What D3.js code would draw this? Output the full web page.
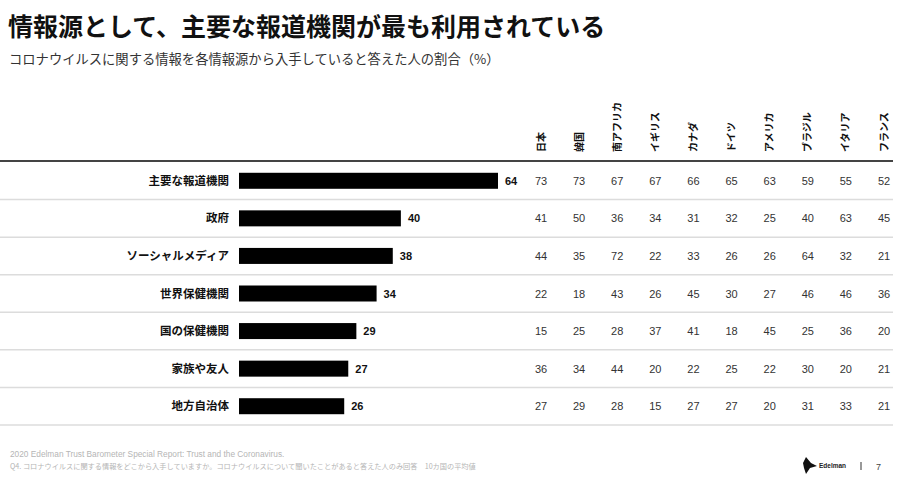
<!DOCTYPE html>
<html>
<head>
<meta charset="utf-8">
<script src="https://d3js.org/d3.v7.min.js"></script>
<style>
  body { margin: 0; background: #fff; }
  text { font-family: "Noto Sans CJK JP", "Liberation Sans", sans-serif; }
  .num { font-family: "Liberation Sans", Arial, sans-serif; }
</style>
</head>
<body>
<div id="chart"></div>
<script>
// sources (rows) and 10-country average
var sources = ["主要な報道機関", "政府", "ソーシャルメディア", "世界保健機関", "国の保健機関", "家族や友人", "地方自治体"];
var average = [64, 40, 38, 34, 29, 27, 26];

// countries (columns)
var countries = ["日本", "韓国", "南アフリカ", "イギリス", "カナダ", "ドイツ", "アメリカ", "ブラジル", "イタリア", "フランス"];

// values per source, in country order
var byCountry = [
  [73, 73, 67, 67, 66, 65, 63, 59, 55, 52],
  [41, 50, 36, 34, 31, 32, 25, 40, 63, 45],
  [44, 35, 72, 22, 33, 26, 26, 64, 32, 21],
  [22, 18, 43, 26, 45, 30, 27, 46, 46, 36],
  [15, 25, 28, 37, 41, 18, 45, 25, 36, 20],
  [36, 34, 44, 20, 22, 25, 22, 30, 20, 21],
  [27, 29, 28, 15, 27, 27, 20, 31, 33, 21]
];

var width = 900, height = 483;

var svg = d3.select("#chart").append("svg")
  .attr("width", width)
  .attr("height", height);

// title
svg.append("text")
  .attr("x", 8).attr("y", 36)
  .style("font-size", "25px").style("font-weight", "bold").attr("fill", "#111")
  .text("情報源として、主要な報道機関が最も利用されている");

svg.append("text")
  .attr("x", 9).attr("y", 64)
  .style("font-size", "13.3px").attr("fill", "#333")
  .text("コロナウイルスに関する情報を各情報源から入手していると答えた人の割合（%）");

// scales
var y = d3.scaleBand().domain(sources).range([162, 425]);
var x = d3.scaleLinear().domain([0, 64]).range([239, 498]);
var cx = d3.scalePoint().domain(countries).range([541, 884]);

// row separators
svg.selectAll(".sep").data(sources).enter().append("line")
  .attr("x1", 0).attr("x2", 893)
  .attr("y1", function(d){ return y(d) + y.bandwidth(); })
  .attr("y2", function(d){ return y(d) + y.bandwidth(); })
  .attr("stroke", "#dcdcdc").attr("stroke-width", 1.5);

// header line
svg.append("line")
  .attr("x1", 0).attr("x2", 893).attr("y1", 161).attr("y2", 161)
  .attr("stroke", "#444").attr("stroke-width", 2);

// country headers, rotated
svg.selectAll(".country").data(countries).enter().append("text")
  .attr("transform", function(d){ return "translate(" + (cx(d) + 3.5) + ",152) rotate(-90)"; })
  .style("font-size", "10px").style("font-weight", "bold").attr("fill", "#111")
  .text(function(d){ return d; });

// row labels
svg.selectAll(".label").data(sources).enter().append("text")
  .attr("x", 229)
  .attr("y", function(d){ return y(d) + y.bandwidth() / 2 + 4; })
  .attr("text-anchor", "end")
  .style("font-size", "11.5px").style("font-weight", "bold").attr("fill", "#111")
  .text(function(d){ return d; });

// bars
svg.selectAll(".bar").data(average).enter().append("rect")
  .attr("x", x(0))
  .attr("y", function(d, i){ return y(sources[i]) + y.bandwidth() / 2 - 8; })
  .attr("width", function(d){ return x(d) - x(0); })
  .attr("height", 16)
  .attr("fill", "#000");

svg.selectAll(".val").data(average).enter().append("text")
  .attr("class", "num")
  .attr("x", function(d){ return x(d) + 7; })
  .attr("y", function(d, i){ return y(sources[i]) + y.bandwidth() / 2 + 4; })
  .style("font-size", "11px").style("font-weight", "bold").attr("fill", "#111")
  .text(function(d){ return d; });

// country values
var rows = svg.selectAll(".row").data(byCountry).enter().append("g")
  .attr("transform", function(d, i){ return "translate(0," + (y(sources[i]) + y.bandwidth() / 2 + 4) + ")"; });

rows.selectAll("text").data(function(d){ return d; }).enter().append("text")
  .attr("class", "num")
  .attr("x", function(d, j){ return cx(countries[j]); })
  .attr("text-anchor", "middle")
  .style("font-size", "11px").attr("fill", "#333")
  .text(function(d){ return d; });

// footer
svg.append("text")
  .attr("class", "num")
  .attr("x", 10).attr("y", 457)
  .style("font-size", "8.3px").attr("fill", "#b5b5b5")
  .text("2020 Edelman Trust Barometer Special Report: Trust and the Coronavirus.");

svg.append("text")
  .attr("x", 10).attr("y", 469)
  .style("font-size", "7.2px").attr("fill", "#b5b5b5")
  .text("Q4. コロナウイルスに関する情報をどこから入手していますか。コロナウイルスについて聞いたことがあると答えた人のみ回答　10カ国の平均値");

// logo
svg.append("path")
  .attr("d", "M806,457 L811,463 L817,466 L810,468 L806,474 L804,468 L803,463 Z")
  .attr("fill", "#111");
svg.append("text")
  .attr("class", "num")
  .attr("x", 819).attr("y", 468)
  .style("font-size", "6.5px").style("font-weight", "bold").attr("fill", "#222")
  .text("Edelman");
svg.append("line")
  .attr("x1", 861).attr("x2", 861).attr("y1", 462).attr("y2", 470)
  .attr("stroke", "#555").attr("stroke-width", 1.2);
svg.append("text")
  .attr("class", "num")
  .attr("x", 876).attr("y", 470)
  .style("font-size", "9px").attr("fill", "#444")
  .text("7");
</script>
</body>
</html>
